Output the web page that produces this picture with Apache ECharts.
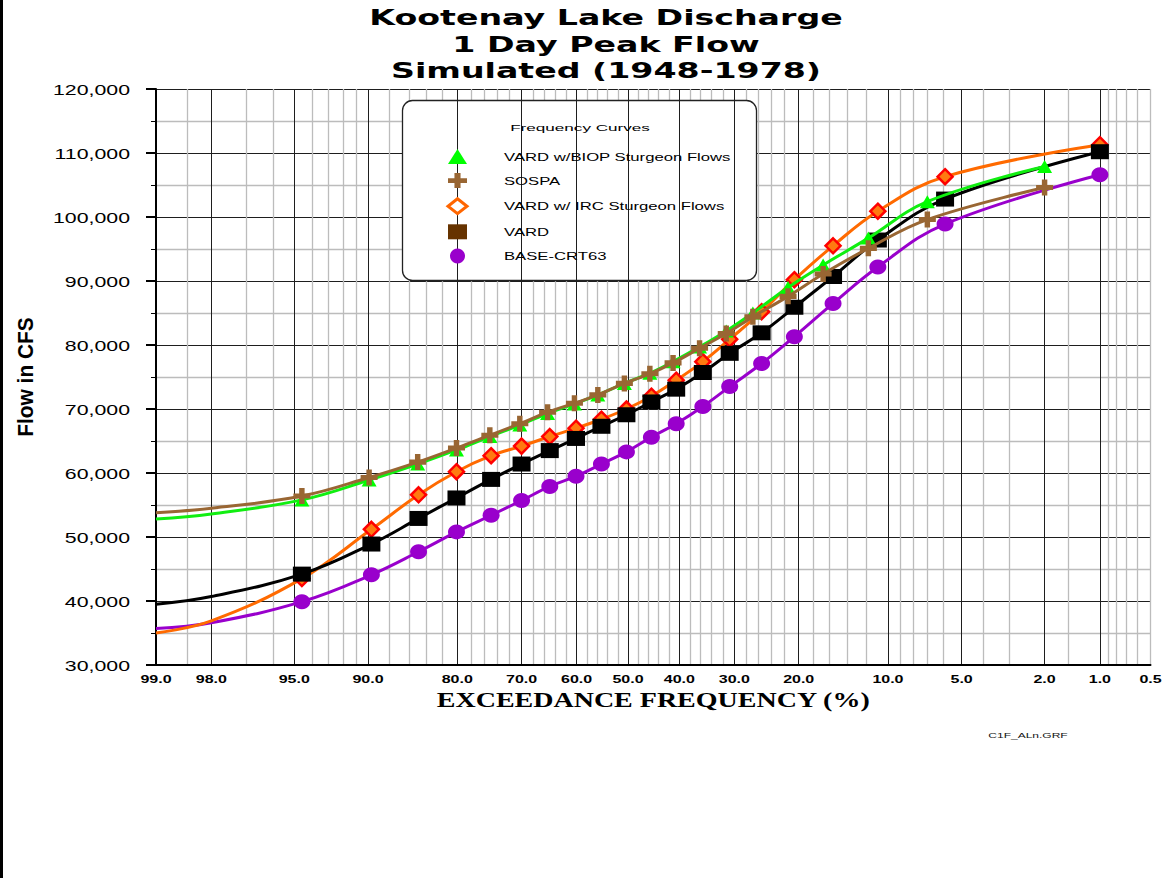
<!DOCTYPE html>
<html>
<head>
<meta charset="utf-8">
<title>Kootenay Lake Discharge</title>
<script src="https://cdn.jsdelivr.net/npm/echarts@6/dist/echarts.min.js"></script>
<style>
  html, body { margin: 0; padding: 0; background: #ffffff; }
  #chart { width: 1168px; height: 878px; }
</style>
</head>
<body>
<div id="chart"></div>
<script>
// ---- data -------------------------------------------------------------
// Exceedance frequency (%) of the plotted points, VARD / IRC / BASE curves
const exceedA = [99, 98, 94.6, 89.7, 84.9, 80.1, 75.0, 70.0, 65.0, 60.1, 55.2, 50.3, 45.4, 40.6, 35.6, 30.8, 25.5, 20.6, 15.6, 10.9, 5.9, 1.0];
// Exceedance frequency (%) of the plotted points, BIOP / SOSPA curves
const exceedB = [99, 98, 94.6, 89.9, 85.0, 80.1, 75.2, 70.3, 65.4, 60.4, 55.9, 50.7, 45.7, 41.2, 36.2, 31.4, 26.9, 21.5, 16.8, 11.8, 7.0, 2.0];
// the first points of each curve are part of the fitted line only (no marker)
const curveOnlyPoints = 2;

// 1-day peak flow (cfs)
const flowBIOP  = [52800, 53600, 55800, 58900, 61400, 63600, 65700, 67500, 69300, 70800, 72200, 74000, 75600, 77400, 79700, 82200, 85000, 89000, 92500, 96700, 102400, 107900];
const flowSOSPA = [53800, 54500, 56400, 59300, 61700, 63900, 65900, 67700, 69500, 70900, 72200, 74000, 75500, 77200, 79500, 81800, 84400, 87600, 91100, 95100, 99600, 104600];
const flowIRC   = [35000, 36900, 43500, 51200, 56600, 60200, 62700, 64200, 65700, 67000, 68400, 70000, 72000, 74500, 77400, 80900, 85200, 90200, 95500, 100900, 106300, 111300];
const flowVARD  = [39500, 40700, 44200, 48900, 52900, 56100, 59000, 61400, 63500, 65400, 67300, 69100, 71100, 73100, 75700, 78700, 81900, 85900, 90700, 96400, 102800, 110200];
const flowBASE  = [35700, 36600, 39900, 44100, 47700, 50800, 53400, 55700, 57900, 59500, 61400, 63300, 65600, 67700, 70400, 73500, 77100, 81300, 86500, 92200, 98900, 106600];

const seriesNames = ['VARD w/BIOP Sturgeon Flows', 'SOSPA', 'VARD w/ IRC Sturgeon Flows', 'VARD', 'BASE-CRT63'];

// probability-axis tick marks (exceedance %)
const labelTicks = [99, 98, 95, 90, 80, 70, 60, 50, 40, 30, 20, 10, 5, 2, 1, 0.5];
const majorGrid  = [98, 95, 90, 80, 70, 60, 50, 40, 30, 20, 10, 5, 2, 1];
const minorGrid  = [98.5, 97, 96, 94, 93, 92, 91, 88, 86, 84, 82, 78, 76, 74, 72, 68, 66, 64, 62,
                    58, 56, 54, 52, 48, 46, 44, 42, 38, 36, 34, 32, 28, 26, 24, 22, 18, 16, 14, 12,
                    9, 8, 7, 6, 4, 3, 1.5, 0.9, 0.8, 0.7, 0.6, 0.5];
const flowMin = 30000, flowMax = 120000, flowStep = 10000;

// ---- normal probability scale -----------------------------------------
// inverse standard normal CDF (Acklam's rational approximation)
function normInv(p) {
  const a = [-3.969683028665376e+01, 2.209460984245205e+02, -2.759285104469687e+02, 1.383577518672690e+02, -3.066479806614716e+01, 2.506628277459239e+00];
  const b = [-5.447609879822406e+01, 1.615858368580409e+02, -1.556989798598866e+02, 6.680131188771972e+01, -1.328068155288572e+01];
  const c = [-7.784894002430293e-03, -3.223964580411365e-01, -2.400758277161838e+00, -2.549732539343734e+00, 4.374664141464968e+00, 2.938163982698783e+00];
  const d = [7.784695709041462e-03, 3.224671290700398e-01, 2.445134137142996e+00, 3.754408661907416e+00];
  const pl = 0.02425, ph = 1 - pl;
  let q, r;
  if (p < pl) {
    q = Math.sqrt(-2 * Math.log(p));
    return (((((c[0]*q + c[1])*q + c[2])*q + c[3])*q + c[4])*q + c[5]) / ((((d[0]*q + d[1])*q + d[2])*q + d[3])*q + 1);
  }
  if (p <= ph) {
    q = p - 0.5; r = q * q;
    return (((((a[0]*r + a[1])*r + a[2])*r + a[3])*r + a[4])*r + a[5]) * q / (((((b[0]*r + b[1])*r + b[2])*r + b[3])*r + b[4])*r + 1);
  }
  q = Math.sqrt(-2 * Math.log(1 - p));
  return -(((((c[0]*q + c[1])*q + c[2])*q + c[3])*q + c[4])*q + c[5]) / ((((d[0]*q + d[1])*q + d[2])*q + d[3])*q + 1);
}
// exceedance % -> position on the probability axis (high exceedance on the left)
const toAxis = pct => normInv(1 - pct / 100);

const xMin = toAxis(99);
const xMax = toAxis(0.5);
const tickLabelText = new Map(labelTicks.map(p => [toAxis(p).toFixed(6), p.toFixed(1)]));

// ---- series -----------------------------------------------------------
const PLUS = 'path://M3.4,0h3.2v3.4h3.4v3.2h-3.4v3.4h-3.2v-3.4h-3.4v-3.2h3.4z';

function curve(name, exceed, flow, lineColor, symbol, symbolSize, itemStyle, z) {
  return {
    name, type: 'line', z,
    xAxisIndex: 0, yAxisIndex: 0,
    smooth: 0.4,
    symbol, symbolSize, showSymbol: true,
    lineStyle: { color: lineColor, width: 3 },
    itemStyle: Object.assign({ opacity: 1 }, itemStyle),
    emphasis: { disabled: true },
    data: exceed.map((p, i) => i < curveOnlyPoints
      ? { value: [toAxis(p), flow[i]], symbol: 'none' }
      : [toAxis(p), flow[i]])
  };
}

const series = [
  curve(seriesNames[4], exceedA, flowBASE, '#9900cc', 'circle', [17, 15], { color: '#9900cc' }, 2),
  curve(seriesNames[2], exceedA, flowIRC, '#ff6a00', 'diamond', [15, 15], { color: '#ff7a10', borderColor: '#ff0000', borderWidth: 2.5 }, 3),
  curve(seriesNames[3], exceedA, flowVARD, '#000000', 'rect', [18, 15], { color: '#000000' }, 4),
  curve(seriesNames[0], exceedB, flowBIOP, '#11ee11', 'triangle', [15, 13], { color: '#00ff00' }, 5),
  curve(seriesNames[1], exceedB, flowSOSPA, '#996633', PLUS, [17, 16], { color: '#996633' }, 6)
];

// widening applied to each text size once drawn (the lettering is broad)
const TEXT_WIDTH_SCALE = { '20.5': 1.62, '15': 1.42, '10': 1.6, '20': 1.4, '22': 0.95, '11.5': 1.45, '9.5': 1.8, '8': 1.5 };

const option = {
  animation: false,
  backgroundColor: '#ffffff',
  title: {
    text: 'Kootenay Lake Discharge\n1 Day Peak Flow\nSimulated (1948-1978)',
    left: 606, top: 5, padding: 0, textAlign: 'center',
    textStyle: { fontFamily: 'DejaVu Sans', fontWeight: 'bold', fontSize: 20.5, lineHeight: 26.5, color: '#000' }
  },
  grid: { left: 156, right: 17.5, top: 89, bottom: 213, containLabel: false, outerBoundsMode: 'none' },
  legend: {
    orient: 'vertical', left: 446.5, top: 149, padding: 0,
    itemWidth: 19, itemHeight: 15, itemGap: 9.1,
    symbolKeepAspect: false, selectedMode: false,
    textStyle: { fontFamily: 'Liberation Sans, Arial', fontSize: 11.5, color: '#000', lineHeight: 15, padding: [0, 0, 0, 32] },
    data: [
      { name: seriesNames[0], icon: 'triangle', itemStyle: { color: '#00ff00', borderWidth: 0, borderColor: 'transparent' } },
      { name: seriesNames[1], icon: PLUS, itemStyle: { color: '#996633', borderWidth: 0, borderColor: 'transparent' } },
      { name: seriesNames[2], icon: 'diamond', itemStyle: { color: '#ffffff', borderColor: '#ff6600', borderWidth: 3 } },
      { name: seriesNames[3], icon: 'rect', itemStyle: { color: '#663300', borderWidth: 0, borderColor: 'transparent' } },
      { name: seriesNames[4], icon: 'circle', itemStyle: { color: '#9900cc', borderWidth: 0, borderColor: 'transparent' } }
    ]
  },
  xAxis: [
    {
      // labelled probability axis with the heavy grid lines
      type: 'value', position: 'bottom', min: xMin, max: xMax, z: 1,
      axisLine: { show: true, onZero: false, lineStyle: { color: '#000', width: 2 } },
      axisTick: { show: false, customValues: majorGrid.map(toAxis) },
      axisLabel: {
        customValues: labelTicks.map(toAxis), showMinLabel: true, showMaxLabel: true,
        formatter: v => tickLabelText.get(v.toFixed(6)) || '',
        fontFamily: 'Liberation Sans, Arial', fontWeight: 'bold', fontSize: 10, color: '#000', margin: 9
      },
      splitLine: { show: true, lineStyle: { color: '#1e1e1e', width: 1 } },
      name: 'EXCEEDANCE FREQUENCY (%)', nameLocation: 'middle', nameGap: 25,
      nameTextStyle: { fontFamily: 'Liberation Serif, Times New Roman', fontWeight: 'bold', fontSize: 20, color: '#000' }
    },
    {
      // light intermediate probability grid lines
      type: 'value', position: 'top', min: xMin, max: xMax, z: 0,
      axisLine: { show: false, onZero: false },
      axisTick: { show: false, customValues: minorGrid.map(toAxis) },
      axisLabel: { show: false },
      splitLine: { show: true, lineStyle: { color: '#bcbcbc', width: 1.3 } }
    }
  ],
  yAxis: {
    type: 'value', min: flowMin, max: flowMax, interval: flowStep,
    axisLine: { show: true, onZero: false, lineStyle: { color: '#000', width: 2 } },
    axisTick: { show: true, inside: false, length: 10, lineStyle: { color: '#000', width: 2 } },
    minorTick: { show: true, splitNumber: 2, length: 5, lineStyle: { color: '#000', width: 1 } },
    splitLine: { show: true, lineStyle: { color: '#1e1e1e', width: 1 } },
    minorSplitLine: { show: true, lineStyle: { color: '#bcbcbc', width: 1.3 } },
    axisLabel: {
      formatter: v => v.toLocaleString('en-US'),
      fontFamily: 'Liberation Sans, Arial', fontSize: 15, color: '#000', margin: 26
    },
    name: 'Flow in CFS', nameLocation: 'middle', nameGap: 120,
    nameTextStyle: { fontFamily: 'Liberation Sans, Arial', fontWeight: 'bold', fontSize: 22, color: '#000' }
  },
  graphic: [
    { type: 'rect', silent: true, z: 10, shape: { x: 0, y: 0, width: 3, height: 878 }, style: { fill: '#000' } },
    { type: 'rect', silent: true, z: 1, shape: { x: 402.5, y: 100.5, width: 354, height: 180, r: 10 },
      style: { fill: '#ffffff', stroke: '#222', lineWidth: 1.3 } },
    { type: 'text', silent: true, z: 10, x: 580, y: 127,
      style: { text: 'Frequency Curves', fontFamily: 'Liberation Sans, Arial', fontSize: 9.5, fill: '#000', align: 'center', verticalAlign: 'middle' } },
    { type: 'text', silent: true, z: 10, x: 1028, y: 735,
      style: { text: 'C1F_ALn.GRF', fontFamily: 'Liberation Sans, Arial', fontSize: 8, fill: '#111', align: 'center', verticalAlign: 'middle' } }
  ],
  series
};

const dom = document.getElementById('chart');
const chart = echarts.init(dom, null, { renderer: 'svg', width: 1168, height: 878 });
chart.setOption(option);

// broaden the drawn lettering by its size class
function widenText() {
  dom.querySelectorAll('text').forEach(t => {
    if (t.getAttribute('data-wide')) return;
    const size = parseFloat(getComputedStyle(t).fontSize);
    const k = TEXT_WIDTH_SCALE[String(size)];
    if (!k) return;
    const len = t.getComputedTextLength();
    if (!(len > 0)) return;
    t.setAttribute('textLength', (len * k).toFixed(2));
    t.setAttribute('lengthAdjust', 'spacingAndGlyphs');
    t.setAttribute('data-wide', '1');
  });
}
widenText();
chart.on('finished', widenText);
</script>
</body>
</html>
